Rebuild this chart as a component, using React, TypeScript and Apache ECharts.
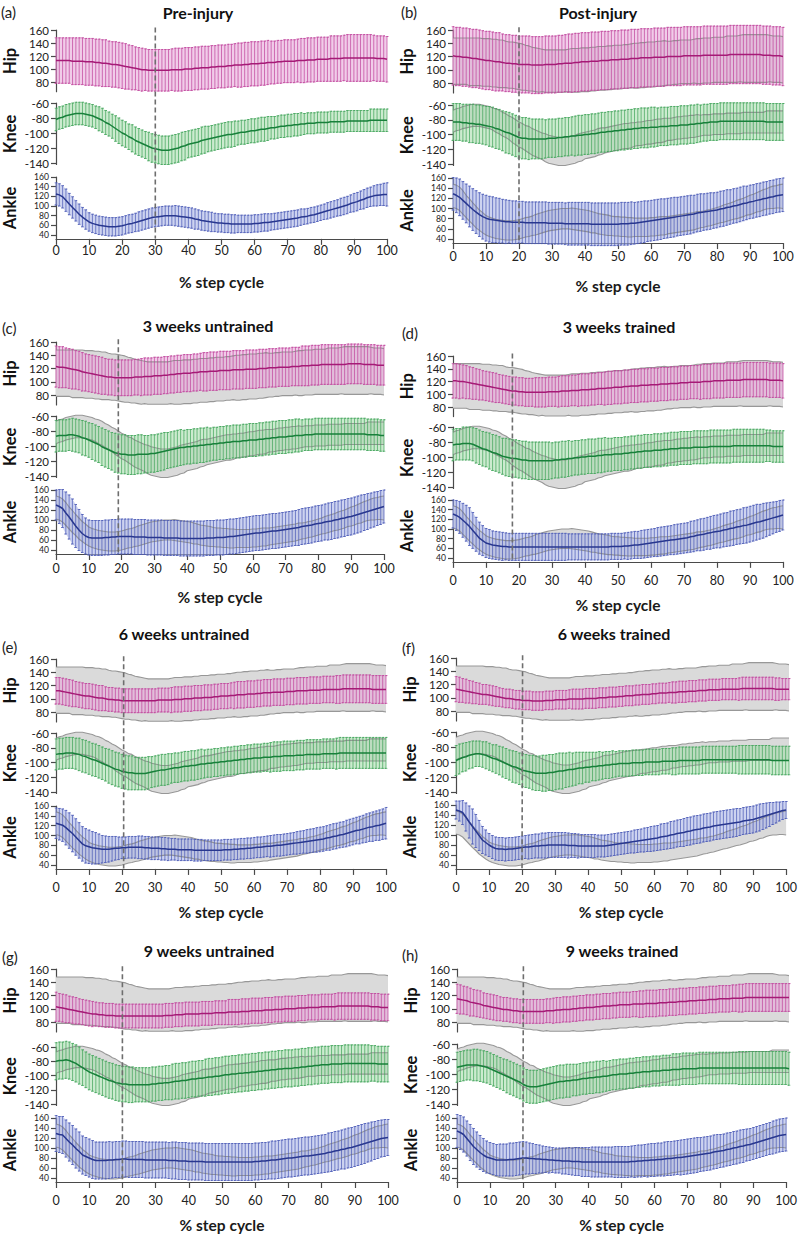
import React, { useEffect, useRef } from "react";
import * as echarts from "echarts";

// ---------------- DATA ----------------
const STEP: number[] = Array.from({ length: 101 }, (_, i) => i); // % step cycle sample positions
const X_TICKS = [0, 10, 20, 30, 40, 50, 60, 70, 80, 90, 100];
const HIP_TICKS = [80, 100, 120, 140, 160];
const KNEE_TICKS = [-140, -120, -100, -80, -60];
const ANKLE_TICKS = [40, 60, 80, 100, 120, 140, 160];
const JOINTS = ["Hip", "Knee", "Ankle"];
const PANEL_TITLES = ["Pre-injury", "Post-injury", "3 weeks untrained", "3 weeks trained", "6 weeks untrained", "6 weeks trained", "9 weeks untrained", "9 weeks trained"];
const PANEL_LETTERS = ["(a)", "(b)", "(c)", "(d)", "(e)", "(f)", "(g)", "(h)"];
const EVENT_LINE = [30, 20, 19, 18, 20.5, 20, 20, 20];

// (a) Pre-injury
const HIP_MEAN_A = [113,113,113,113,113,112,112,112,112,111,111,111,110,110,109,109,108,107,107,106,105,104,103,102,101,100,99,99,98,98,98,98,98,98,98,99,99,99,99,100,100,100,101,101,102,102,102,103,103,104,104,104,105,105,106,106,106,107,107,108,108,108,109,109,110,110,110,111,111,112,112,112,112,113,113,113,114,114,114,115,115,115,115,116,116,116,116,117,117,117,117,117,117,117,117,117,117,116,116,116,115];
const HIP_SD_A = [35,35,35,35,35,36,36,36,36,36,36,36,36,36,36,36,35,35,35,35,35,35,34,34,33,33,33,32,32,32,32,32,32,32,32,32,33,33,33,33,33,33,33,33,33,33,33,33,33,33,33,33,33,33,33,34,34,34,34,34,34,34,34,34,34,33,33,33,33,33,33,33,33,33,34,34,34,34,34,34,34,34,34,35,35,35,35,35,36,36,36,36,36,36,36,36,35,35,35,35,35];
const KNEE_MEAN_A = [-82,-80,-79,-77,-76,-75,-74,-74,-74,-75,-76,-77,-79,-81,-83,-86,-88,-91,-94,-97,-100,-102,-105,-107,-110,-112,-114,-116,-118,-120,-121,-122,-123,-123,-123,-122,-121,-120,-118,-117,-115,-114,-113,-112,-110,-109,-108,-107,-106,-105,-104,-103,-102,-102,-101,-100,-99,-99,-98,-97,-97,-96,-95,-95,-94,-93,-93,-92,-91,-91,-90,-90,-89,-89,-88,-88,-87,-87,-87,-86,-86,-86,-86,-85,-85,-85,-85,-85,-84,-84,-84,-84,-84,-84,-84,-83,-83,-83,-83,-83,-83];
const KNEE_SD_A = [15,15,15,15,15,15,15,15,15,15,15,15,15,16,16,16,16,16,17,17,17,17,17,18,18,18,18,18,19,19,19,19,19,19,19,19,19,19,19,19,18,18,18,18,18,18,17,17,17,17,17,17,17,17,17,16,16,16,16,16,16,16,16,16,16,15,15,15,15,15,15,15,15,15,15,14,14,14,14,14,14,14,14,14,14,14,14,14,14,14,14,14,14,14,14,15,15,15,15,15,15];
const ANK_MEAN_A = [125,123,119,112,104,97,90,83,77,72,67,64,62,60,59,58,57,57,57,58,59,61,63,64,66,68,70,72,74,76,77,78,79,80,80,80,80,79,78,77,76,75,73,72,70,69,68,67,66,65,65,64,64,63,63,63,63,63,63,63,64,64,65,66,66,67,68,69,70,71,72,73,74,75,77,78,79,81,82,84,86,88,90,92,94,96,98,100,102,105,107,109,112,114,117,119,121,122,123,124,124];
const ANK_SD_A = [23,23,23,23,22,22,21,21,20,20,19,19,19,19,19,19,19,19,19,19,19,19,19,19,19,20,20,20,20,20,20,20,20,20,20,20,21,21,21,21,21,21,21,20,20,20,20,20,19,19,19,19,19,19,19,18,18,18,18,18,18,18,18,18,18,17,17,17,17,17,17,17,17,17,17,16,16,16,16,16,16,16,17,17,17,17,18,18,18,18,19,19,19,20,20,20,21,22,22,23,24];

// (b) Post-injury
const HIP_MEAN_B = [121,120,120,119,119,118,117,117,116,115,114,114,113,112,112,111,110,110,109,109,108,108,108,108,107,107,107,107,108,108,108,108,109,109,110,110,110,111,111,112,112,112,113,113,113,114,114,114,115,115,115,116,116,116,117,117,117,118,118,118,118,119,119,119,119,120,120,120,120,120,121,121,121,121,121,121,122,122,122,122,122,122,122,122,123,123,123,123,123,123,123,123,123,123,122,122,122,121,121,121,120];
const HIP_SD_B = [44,44,44,44,44,44,44,44,44,44,44,44,44,44,44,43,43,43,43,43,43,43,43,43,43,43,43,43,43,43,43,43,43,43,43,44,44,44,44,44,44,44,44,44,44,44,44,44,44,44,44,44,44,44,44,44,44,44,44,44,44,44,44,44,44,44,44,44,44,44,44,44,44,44,44,44,44,44,44,44,44,44,44,44,44,44,44,44,44,44,44,44,44,44,44,44,44,44,44,44,44];
const KNEE_MEAN_B = [-83,-83,-83,-84,-84,-85,-85,-86,-86,-87,-88,-89,-90,-92,-93,-95,-97,-98,-100,-102,-104,-105,-105,-106,-106,-106,-106,-106,-106,-105,-105,-105,-104,-104,-103,-103,-102,-102,-101,-101,-100,-100,-99,-99,-98,-97,-97,-96,-96,-95,-95,-94,-94,-93,-93,-92,-92,-91,-91,-91,-90,-90,-90,-89,-89,-89,-88,-88,-88,-87,-87,-87,-86,-86,-85,-85,-84,-84,-83,-83,-83,-82,-82,-82,-82,-82,-82,-82,-82,-82,-82,-82,-82,-82,-82,-83,-83,-83,-83,-83,-83];
const KNEE_SD_B = [25,25,25,25,25,26,26,26,26,26,26,27,27,27,27,27,28,28,28,28,28,28,28,28,27,27,27,27,26,26,26,26,26,26,26,26,26,27,27,27,27,27,27,27,27,27,27,27,27,27,27,27,27,27,27,27,27,27,27,27,27,27,26,26,26,26,26,26,26,26,26,26,26,26,26,25,25,25,25,25,25,25,25,25,25,25,25,25,25,25,25,25,25,25,25,25,25,25,25,25,25];
const ANK_MEAN_B = [129,126,122,116,110,104,98,93,88,84,81,79,78,77,76,75,74,74,73,73,73,73,72,72,72,72,72,72,72,71,71,71,71,71,70,70,70,70,70,70,70,70,69,69,69,69,69,69,69,69,69,70,70,70,71,71,72,73,74,75,76,77,78,79,80,81,82,83,84,85,86,87,88,89,91,92,93,94,95,96,97,99,100,102,103,105,106,108,110,111,113,114,116,117,119,120,122,123,125,126,127];
const ANK_SD_B = [32,34,36,37,38,40,41,42,43,44,45,45,45,44,44,43,43,42,42,42,41,41,41,41,41,41,41,41,41,41,41,41,41,41,41,42,42,42,42,42,42,42,42,42,42,42,42,42,42,42,42,42,42,42,42,41,41,41,41,40,40,40,40,40,39,39,39,39,38,38,38,38,38,37,37,37,36,36,36,35,35,35,35,35,34,34,34,34,34,33,33,33,33,33,33,33,33,33,33,33,33];

// (c) 3 weeks untrained
const HIP_MEAN_C = [123,122,122,121,120,119,118,117,115,114,113,112,111,110,109,108,107,107,106,106,106,106,106,106,107,107,107,108,108,108,109,109,109,110,110,111,111,112,112,113,113,113,114,114,115,115,115,116,116,116,117,117,117,117,118,118,118,118,119,119,119,119,120,120,120,121,121,121,122,122,122,122,123,123,123,124,124,124,125,125,125,126,126,126,126,126,126,126,126,127,127,127,127,127,126,126,126,126,125,125,125];
const HIP_SD_C = [31,31,31,30,30,30,29,29,29,28,28,28,28,28,28,27,27,27,27,27,27,27,27,27,27,27,28,28,28,28,28,28,28,28,28,28,28,28,28,28,28,28,28,28,28,29,29,29,29,29,29,29,29,29,29,29,29,29,29,29,29,29,29,29,29,29,29,29,29,29,29,29,29,29,29,30,30,30,30,30,30,30,30,30,30,30,30,30,30,30,30,30,30,30,30,30,30,30,30,30,30];
const KNEE_MEAN_C = [-87,-86,-86,-86,-85,-85,-86,-87,-89,-90,-92,-94,-96,-98,-101,-103,-105,-107,-109,-110,-111,-111,-112,-112,-112,-111,-111,-111,-111,-110,-110,-109,-108,-107,-106,-105,-104,-103,-102,-102,-101,-101,-100,-100,-99,-99,-98,-98,-97,-97,-96,-96,-95,-95,-94,-94,-94,-93,-93,-92,-92,-92,-91,-91,-90,-90,-89,-89,-88,-88,-88,-87,-87,-86,-86,-86,-85,-85,-85,-84,-84,-84,-84,-84,-84,-84,-84,-84,-84,-84,-84,-84,-84,-84,-84,-85,-85,-85,-85,-86,-86];
const KNEE_SD_C = [21,21,21,21,21,22,22,22,23,23,23,24,24,24,25,25,25,25,26,26,26,26,26,26,26,26,26,25,25,25,25,25,25,25,24,24,24,24,24,23,23,23,23,23,23,23,23,22,22,22,22,22,22,22,22,22,22,22,22,22,22,22,22,22,22,22,22,22,22,22,22,22,22,22,22,21,21,21,21,21,21,21,21,21,21,21,21,21,21,21,21,21,21,21,21,21,21,21,21,21,21];
const ANK_MEAN_C = [130,127,123,114,106,97,88,80,73,68,65,64,64,64,64,65,65,66,66,67,67,67,67,67,66,66,66,66,65,65,65,65,65,64,64,64,64,64,63,63,63,63,63,63,63,63,64,64,64,65,65,65,66,67,67,68,69,70,71,72,73,74,74,75,76,77,78,78,79,80,81,82,83,84,85,87,88,89,90,92,93,94,96,97,98,100,101,103,104,106,107,109,111,113,115,117,119,121,123,125,127];
const ANK_SD_C = [30,34,38,42,44,45,43,41,38,36,35,35,35,35,35,35,35,35,35,35,35,35,35,35,35,35,35,35,35,35,35,35,35,35,35,35,35,35,35,35,35,35,35,35,35,35,35,35,35,35,35,35,35,35,35,35,35,35,35,35,35,35,35,35,35,35,35,35,35,35,35,35,35,35,36,36,36,36,36,36,36,36,36,37,37,37,37,37,37,37,37,37,37,37,36,36,35,35,34,34,33];

// (d) 3 weeks trained
const HIP_MEAN_D = [121,121,120,120,119,118,117,116,115,114,113,112,111,110,109,108,107,106,105,105,104,104,103,103,103,103,103,103,103,104,104,104,104,105,105,105,106,106,106,107,107,107,108,108,109,109,109,110,110,111,111,111,112,112,113,113,113,114,114,114,115,115,115,116,116,116,117,117,117,118,118,118,119,119,119,119,120,120,120,121,121,121,121,122,122,122,122,122,123,123,123,123,123,123,123,123,122,122,122,122,121];
const HIP_SD_D = [27,27,27,26,26,25,25,24,24,23,23,23,23,23,22,22,22,22,22,22,22,22,22,22,22,23,23,23,23,23,23,23,24,24,24,24,24,24,25,25,25,25,25,25,25,25,26,26,26,26,26,26,26,26,26,26,26,26,26,26,26,26,26,26,26,26,26,26,26,26,26,26,26,26,26,27,27,27,27,27,27,27,27,27,27,27,27,27,27,27,27,27,27,27,27,27,27,27,27,27,27];
const KNEE_MEAN_D = [-84,-83,-83,-82,-82,-82,-83,-85,-87,-89,-90,-92,-94,-95,-97,-99,-100,-101,-102,-102,-103,-104,-104,-105,-105,-105,-105,-105,-105,-105,-105,-104,-104,-103,-103,-102,-102,-101,-101,-100,-100,-99,-99,-99,-98,-98,-97,-97,-97,-96,-96,-96,-95,-95,-94,-94,-93,-93,-92,-92,-92,-91,-91,-91,-90,-90,-89,-89,-89,-88,-88,-88,-88,-87,-87,-87,-87,-87,-86,-86,-86,-86,-86,-86,-86,-85,-85,-85,-85,-85,-85,-85,-85,-85,-85,-85,-85,-86,-86,-86,-86];
const KNEE_SD_D = [21,21,21,22,22,22,22,23,23,23,23,24,24,24,24,24,25,25,25,25,25,25,25,25,25,25,25,25,25,25,24,24,24,24,24,24,23,23,23,23,23,23,23,23,23,23,23,22,22,22,22,22,22,22,22,22,22,22,22,22,22,22,22,22,22,22,22,22,22,22,22,22,22,22,22,22,22,22,22,22,22,22,22,22,22,22,22,22,22,22,22,22,22,22,22,21,21,21,21,21,21];
const ANK_MEAN_D = [131,128,124,118,112,105,97,89,81,76,71,69,67,66,65,64,64,63,63,63,63,63,63,63,63,63,63,63,63,63,63,63,63,63,63,63,63,63,63,63,63,63,63,63,63,63,63,63,64,64,64,64,65,65,66,67,67,68,69,70,71,72,73,74,75,76,77,78,79,80,81,82,84,85,87,88,89,91,92,94,95,96,98,99,101,102,104,105,107,108,110,112,114,115,117,119,121,123,125,127,129];
const ANK_SD_D = [29,31,33,35,37,39,37,35,33,31,30,30,29,29,29,29,28,28,28,28,28,28,28,28,28,28,28,28,28,28,28,28,28,28,28,27,27,27,27,27,27,27,27,27,27,27,27,27,27,27,27,27,27,28,28,28,28,29,29,29,29,29,30,30,30,30,30,31,31,31,31,31,32,32,32,33,33,33,34,34,34,35,35,35,36,36,36,36,37,37,37,37,37,36,36,35,34,33,32,32,31];

// (e) 6 weeks untrained
const HIP_MEAN_E = [112,112,111,110,109,108,107,106,105,104,104,103,102,101,101,100,99,99,98,98,97,97,97,97,97,97,97,97,97,97,97,98,98,98,98,98,99,99,99,100,100,100,101,101,101,102,102,102,103,103,104,104,104,105,105,106,106,106,107,107,107,108,108,109,109,109,110,110,110,110,111,111,111,112,112,112,112,113,113,113,113,114,114,114,114,114,114,115,115,115,115,115,115,115,115,115,114,114,114,114,114];
const HIP_SD_E = [20,20,20,20,20,20,19,19,19,19,19,19,19,19,19,18,18,18,18,18,18,18,18,18,18,18,18,18,18,18,18,18,18,18,18,19,19,19,19,19,19,19,19,19,19,19,19,19,19,19,19,19,19,19,20,20,20,20,20,20,20,20,20,20,20,20,20,20,20,20,20,20,20,20,20,20,20,20,20,20,20,20,20,20,20,21,21,21,21,21,21,21,21,21,21,21,21,21,21,21,21];
const KNEE_MEAN_E = [-89,-88,-88,-87,-87,-87,-88,-89,-91,-92,-94,-96,-97,-99,-101,-103,-105,-107,-109,-110,-112,-113,-114,-114,-115,-115,-115,-115,-114,-113,-112,-111,-110,-110,-109,-108,-107,-107,-106,-105,-105,-104,-104,-103,-102,-102,-101,-101,-100,-100,-99,-99,-98,-98,-97,-97,-96,-96,-95,-95,-94,-94,-94,-93,-93,-93,-92,-92,-92,-91,-91,-91,-91,-90,-90,-90,-89,-89,-89,-89,-89,-88,-88,-88,-88,-88,-87,-87,-87,-87,-87,-87,-87,-87,-87,-87,-87,-87,-87,-87,-87];
const KNEE_SD_E = [21,21,21,21,21,21,21,22,22,22,22,22,22,22,22,22,23,23,23,23,23,23,23,23,22,22,22,22,22,21,21,21,21,21,21,20,20,20,20,20,20,20,20,20,20,19,19,19,19,19,19,19,19,19,19,19,19,19,19,19,19,19,19,19,19,20,20,20,20,20,20,20,20,20,20,20,20,20,20,20,20,20,20,20,20,21,21,21,21,21,21,21,21,21,21,21,21,21,21,21,21];
const ANK_MEAN_E = [125,123,121,116,110,104,97,90,83,79,77,75,74,73,72,72,72,73,74,74,75,75,76,76,76,76,76,75,75,74,74,74,73,73,72,72,72,71,71,71,71,71,70,70,70,70,70,70,70,70,70,71,71,71,72,72,73,73,74,74,75,76,76,77,78,78,79,80,80,81,82,83,84,85,86,87,88,89,90,91,92,93,95,96,98,99,101,102,104,106,108,110,111,113,115,117,118,120,121,123,125];
const ANK_SD_E = [31,32,33,35,36,37,37,36,35,35,34,33,32,30,28,27,26,25,24,23,22,22,22,22,22,23,23,23,23,23,23,23,23,23,23,22,22,22,22,22,22,22,22,22,22,21,21,21,21,21,21,21,21,21,21,21,21,21,21,21,21,21,21,21,21,22,22,22,22,22,22,22,22,23,23,23,24,24,24,25,25,25,25,26,26,26,26,26,27,27,27,27,28,28,29,29,30,30,31,31,32];

// (f) 6 weeks trained
const HIP_MEAN_F = [113,112,111,110,109,108,107,106,105,105,104,103,102,101,100,99,99,98,97,97,96,96,96,95,95,95,95,96,96,96,97,97,97,97,98,98,98,98,98,99,99,99,99,100,100,100,101,101,101,102,102,103,103,103,104,104,105,105,105,106,106,107,107,107,108,108,108,109,109,109,110,110,110,111,111,111,112,112,112,112,113,113,113,113,113,113,114,114,114,114,114,114,114,114,114,114,113,113,113,113,113];
const HIP_SD_F = [19,19,18,18,17,17,16,16,15,15,15,15,15,14,14,14,14,14,14,14,14,14,14,14,14,14,14,14,14,14,14,14,14,14,14,15,15,15,15,15,15,15,15,15,15,15,15,15,15,15,15,15,15,15,15,15,15,15,15,15,15,15,15,15,15,16,16,16,16,16,16,16,16,16,16,16,16,16,16,16,16,16,16,16,16,17,17,17,17,17,17,17,17,17,17,17,17,17,16,16,16];
const KNEE_MEAN_F = [-98,-96,-94,-93,-91,-90,-89,-89,-90,-91,-93,-95,-96,-98,-100,-102,-104,-106,-107,-109,-111,-112,-113,-114,-115,-115,-115,-115,-114,-114,-113,-112,-112,-111,-110,-110,-109,-108,-108,-107,-107,-106,-106,-105,-105,-104,-104,-103,-103,-102,-102,-102,-102,-101,-101,-101,-101,-100,-100,-100,-100,-100,-99,-99,-99,-99,-99,-98,-98,-98,-98,-98,-98,-98,-97,-97,-97,-97,-97,-97,-97,-97,-97,-97,-97,-97,-97,-97,-97,-97,-97,-97,-97,-97,-97,-98,-98,-98,-98,-98,-98];
const KNEE_SD_F = [20,20,19,19,18,18,17,17,17,18,18,18,19,19,20,20,20,21,21,21,22,22,22,23,23,23,24,24,24,24,24,24,24,23,23,22,22,21,21,20,20,19,19,19,18,18,18,18,17,17,17,17,17,17,17,17,17,17,17,17,17,17,17,17,17,18,18,18,18,18,18,18,18,18,18,18,18,18,18,18,18,18,18,18,18,19,19,19,19,19,19,19,19,19,19,19,19,19,19,19,19];
const ANK_MEAN_F = [150,148,145,136,126,117,108,99,90,85,80,76,73,72,72,71,72,72,73,74,75,76,76,77,78,78,79,79,80,80,80,80,80,80,79,79,79,78,78,78,78,78,78,78,78,78,79,80,81,82,83,84,85,86,87,88,89,90,91,92,93,94,96,97,98,100,101,103,104,105,107,108,110,111,112,114,115,116,118,119,120,121,122,123,124,125,126,128,129,130,131,133,135,137,139,141,143,145,147,149,150];
const ANK_SD_F = [18,20,24,28,32,35,33,30,27,25,23,23,23,23,23,23,23,23,23,23,23,23,24,24,24,24,25,25,25,25,25,25,25,25,25,24,24,24,23,23,23,23,23,22,22,22,22,22,22,22,22,22,22,22,23,23,23,24,24,25,25,25,26,26,26,27,27,27,27,28,28,28,28,28,28,28,28,28,28,28,28,28,28,28,28,28,27,27,27,27,27,27,27,26,25,24,22,21,19,18,17];

// (g) 9 weeks untrained
const HIP_MEAN_G = [103,102,101,100,99,98,97,96,95,94,93,92,92,91,91,90,90,90,89,89,89,89,89,89,89,89,89,89,89,89,89,89,89,90,90,90,91,91,91,92,92,92,92,92,93,93,93,93,94,94,94,94,95,95,95,95,96,96,96,97,97,97,97,98,98,98,99,99,99,100,100,100,100,101,101,101,102,102,102,102,103,103,103,103,103,104,104,104,104,104,104,104,104,104,104,103,103,103,102,102,102];
const HIP_SD_G = [22,21,21,21,20,20,20,19,19,19,19,19,18,18,18,18,18,18,18,18,18,18,18,18,18,18,18,18,18,18,18,18,18,18,18,18,18,18,18,18,18,18,18,18,18,18,18,18,18,18,18,18,19,19,19,19,19,19,19,19,19,19,19,19,19,19,19,19,19,19,19,19,19,19,19,19,19,19,19,19,19,19,19,19,20,20,20,20,20,20,20,20,20,20,20,20,20,20,20,20,20];
const KNEE_MEAN_G = [-80,-79,-79,-78,-79,-81,-83,-86,-89,-92,-95,-97,-99,-101,-103,-105,-107,-108,-110,-111,-112,-112,-113,-113,-113,-113,-113,-113,-113,-112,-112,-111,-111,-110,-110,-109,-108,-108,-107,-107,-106,-105,-105,-104,-104,-103,-102,-102,-101,-101,-100,-99,-99,-98,-98,-97,-97,-96,-96,-95,-95,-94,-94,-93,-93,-92,-92,-91,-91,-90,-90,-90,-89,-89,-88,-88,-87,-87,-86,-86,-85,-85,-85,-84,-84,-84,-84,-83,-83,-83,-83,-83,-83,-83,-83,-83,-83,-84,-84,-84,-84];
const KNEE_SD_G = [26,26,26,26,26,26,26,26,25,25,25,25,25,25,25,25,25,25,25,25,25,25,25,25,24,24,24,24,24,24,24,24,24,24,24,25,25,25,25,25,25,25,25,25,25,26,26,26,26,26,26,26,26,26,26,26,26,26,26,26,26,26,26,26,26,26,26,26,26,26,26,26,26,26,26,26,26,26,26,26,26,26,26,26,26,26,26,26,26,26,26,26,26,26,26,25,25,25,25,25,25];
const ANK_MEAN_G = [129,127,126,119,112,106,99,93,86,83,80,77,75,75,75,75,76,76,77,77,78,78,77,77,77,77,77,76,76,76,76,76,76,76,75,75,75,74,74,74,73,73,73,73,73,72,72,72,72,72,72,72,72,72,72,72,72,72,72,72,73,73,74,74,75,76,76,77,78,79,80,80,81,82,83,84,84,85,86,87,88,89,91,92,94,95,97,98,100,101,103,105,107,109,111,113,115,117,119,120,121];
const ANK_SD_G = [36,36,37,37,38,39,39,39,38,38,38,38,37,37,37,37,37,36,36,36,36,36,36,36,36,36,36,36,36,36,36,36,36,36,36,37,37,37,37,37,37,37,37,37,37,37,37,37,37,37,37,37,37,37,37,37,37,37,37,37,37,37,37,37,37,38,38,38,38,38,38,38,38,38,38,38,38,38,38,38,38,38,39,39,39,39,39,40,40,40,40,40,40,40,39,39,38,38,37,37,36];

// (h) 9 weeks trained
const HIP_MEAN_H = [115,114,113,112,110,109,108,107,105,104,103,102,101,100,99,99,98,97,97,96,96,96,96,96,96,96,96,97,97,97,98,98,99,99,99,100,100,101,101,102,102,102,103,103,104,104,104,105,105,106,106,106,106,107,107,107,107,108,108,108,108,109,109,109,110,110,110,111,111,111,112,112,112,113,113,113,114,114,114,115,115,115,115,116,116,116,116,117,117,117,117,117,117,117,117,117,117,117,117,117,117];
const HIP_SD_H = [22,22,21,21,21,20,20,20,19,19,19,19,19,18,18,18,18,18,18,18,18,18,18,18,18,18,18,18,18,19,19,19,19,19,19,19,19,19,19,19,19,19,19,19,19,19,19,19,19,19,19,19,19,19,19,20,20,20,20,20,20,20,20,20,20,20,20,20,20,20,20,20,20,20,20,20,20,20,20,20,20,20,20,20,20,21,21,21,21,21,21,21,21,21,21,21,21,21,21,21,21];
const KNEE_MEAN_H = [-91,-90,-89,-88,-88,-88,-88,-89,-90,-91,-93,-95,-97,-99,-101,-103,-105,-107,-109,-111,-114,-116,-117,-117,-117,-116,-115,-114,-113,-112,-111,-110,-110,-109,-109,-108,-108,-107,-106,-106,-105,-105,-104,-104,-103,-103,-102,-101,-101,-100,-100,-100,-99,-99,-98,-98,-97,-97,-97,-96,-96,-96,-95,-95,-95,-94,-94,-94,-93,-93,-93,-93,-93,-92,-92,-92,-92,-92,-92,-92,-92,-92,-92,-92,-92,-92,-92,-92,-92,-92,-92,-92,-92,-92,-92,-92,-92,-92,-92,-92,-93];
const KNEE_SD_H = [20,20,20,20,20,21,21,21,21,21,21,21,21,21,21,22,22,22,22,22,22,22,22,22,22,22,22,22,22,22,22,22,22,22,22,21,21,21,21,21,21,21,21,21,21,20,20,20,20,20,20,20,20,20,20,20,20,20,20,20,20,20,20,20,20,21,21,21,21,21,21,21,21,21,21,21,21,21,21,21,21,21,21,21,21,22,22,22,22,22,22,22,22,22,22,22,22,22,22,22,22];
const ANK_MEAN_H = [134,131,127,119,111,103,97,91,86,82,80,78,76,76,76,76,77,77,78,79,80,80,79,79,78,78,77,77,76,76,75,75,74,74,74,73,73,73,72,72,72,72,72,72,72,72,72,72,72,72,72,72,72,73,73,74,74,75,75,76,76,77,77,78,79,79,80,81,81,82,83,84,85,86,87,88,89,90,92,93,94,95,97,98,100,101,103,104,106,107,109,111,113,115,117,119,121,123,125,126,127];
const ANK_SD_H = [33,34,35,35,36,36,35,34,33,32,31,31,31,32,32,32,33,33,33,33,33,32,31,30,29,28,27,26,26,25,25,25,26,26,27,27,28,28,29,29,29,30,30,30,30,30,30,30,31,31,31,31,31,31,32,32,32,32,33,33,33,33,33,34,34,34,34,34,35,35,35,35,35,35,34,34,34,34,34,34,33,33,33,33,33,33,33,33,32,32,32,32,32,32,32,32,33,33,33,33,33];

const PANELS = [
  [[HIP_MEAN_A, HIP_SD_A], [KNEE_MEAN_A, KNEE_SD_A], [ANK_MEAN_A, ANK_SD_A]],
  [[HIP_MEAN_B, HIP_SD_B], [KNEE_MEAN_B, KNEE_SD_B], [ANK_MEAN_B, ANK_SD_B]],
  [[HIP_MEAN_C, HIP_SD_C], [KNEE_MEAN_C, KNEE_SD_C], [ANK_MEAN_C, ANK_SD_C]],
  [[HIP_MEAN_D, HIP_SD_D], [KNEE_MEAN_D, KNEE_SD_D], [ANK_MEAN_D, ANK_SD_D]],
  [[HIP_MEAN_E, HIP_SD_E], [KNEE_MEAN_E, KNEE_SD_E], [ANK_MEAN_E, ANK_SD_E]],
  [[HIP_MEAN_F, HIP_SD_F], [KNEE_MEAN_F, KNEE_SD_F], [ANK_MEAN_F, ANK_SD_F]],
  [[HIP_MEAN_G, HIP_SD_G], [KNEE_MEAN_G, KNEE_SD_G], [ANK_MEAN_G, ANK_SD_G]],
  [[HIP_MEAN_H, HIP_SD_H], [KNEE_MEAN_H, KNEE_SD_H], [ANK_MEAN_H, ANK_SD_H]],
];

// ---------------- LAYOUT / STYLE ----------------
const FONT = "Lato, 'Open Sans', sans-serif";
const AXES = [
  { min: 65, max: 160, ticks: HIP_TICKS, ref: [160, 80], fs: 11.5 },
  { min: -142, max: -60, ticks: KNEE_TICKS, ref: [-60, -140], fs: 11.5 },
  { min: 32, max: 160, ticks: ANKLE_TICKS, ref: [160, 40], fs: 8.6 },
];
const LAYOUT = [
  { x0: 54, x1: 387, y: [[30, 82], [103, 163], [177, 235]], title: [198, 12], letter: [1, 12], lm: 5 },
  { x0: 453, x1: 783, y: [[30, 83], [105, 164], [178, 239]], title: [598, 12], letter: [401, 12], lm: 7 },
  { x0: 54, x1: 384, y: [[342, 395], [416, 476], [490, 550]], title: [208, 325], letter: [2, 328], lm: 8 },
  { x0: 453, x1: 783, y: [[356, 407], [427, 487], [500, 558]], title: [619, 326], letter: [402, 333], lm: 12 },
  { x0: 53, x1: 386, y: [[659, 712], [733, 792], [806, 865]], title: [184, 633], letter: [2, 647], lm: 12 },
  { x0: 456, x1: 789, y: [[658, 711], [732, 792], [805, 865]], title: [614, 633], letter: [402, 648], lm: 12 },
  { x0: 53, x1: 388, y: [[969, 1022], [1047, 1104], [1118, 1178]], title: [209, 950], letter: [2, 957], lm: 12 },
  { x0: 457, x1: 789, y: [[969, 1022], [1044, 1104], [1118, 1178]], title: [622, 950], letter: [402, 955], lm: 12 },
];
const COLORS = [
  { line: "#a51a76", bar: "#c0449c", fill: "rgba(232,170,218,0.6)" },
  { line: "#17803a", bar: "#42a55a", fill: "rgba(170,222,175,0.6)" },
  { line: "#28378f", bar: "#4b5ab6", fill: "rgba(172,182,230,0.6)" },
];
const GRAY_FILL = "#dadada";
const GRAY_EDGE = "#8e8e8e";
const AXIS_COLOR = "#4a4a4a";

function buildOption() {
  const grid: any[] = [];
  const xAxis: any[] = [];
  const yAxis: any[] = [];
  const series: any[] = [];
  PANELS.forEach((panel, p) => {
    const L = LAYOUT[p];
    panel.forEach((jd, j) => {
      const gi = p * 3 + j;
      const ax = AXES[j];
      const [yA, yB] = L.y[j];
      const ppu = (yB - yA) / Math.abs(ax.ref[0] - ax.ref[1]);
      const top = yA - (ax.max - ax.ref[0]) * ppu;
      const bottom = yB + Math.abs(ax.ref[1] - ax.min) * ppu;
      grid.push({ left: L.x0, width: L.x1 - L.x0, top, height: bottom - top, containLabel: false });
      const isBottom = j === 2;
      xAxis.push({
        gridIndex: gi, type: "value", min: 0, max: 100, interval: 10, show: isBottom,
        axisLine: { show: true, lineStyle: { color: AXIS_COLOR, width: 1.2 } },
        axisTick: { show: true, length: 6, lineStyle: { color: AXIS_COLOR, width: 1.2 } },
        axisLabel: { color: "#222", fontSize: 12.5, fontFamily: FONT, margin: L.lm, customValues: X_TICKS },
        splitLine: { show: false },
        name: isBottom ? "% step cycle" : "", nameLocation: "middle", nameGap: 35,
        nameTextStyle: { fontWeight: "bold", fontSize: 15.5, color: "#1a1a1a", fontFamily: FONT },
      });
      yAxis.push({
        gridIndex: gi, type: "value", min: ax.min, max: ax.max,
        axisLine: { show: true, lineStyle: { color: AXIS_COLOR, width: 1.2 } },
        axisTick: { show: true, length: 5, customValues: ax.ticks, lineStyle: { color: AXIS_COLOR, width: 1.2 } },
        axisLabel: { customValues: ax.ticks, color: "#222", fontSize: ax.fs, lineHeight: ax.fs, fontFamily: FONT, margin: 7, showMinLabel: true, showMaxLabel: true, hideOverlap: false },
        splitLine: { show: false },
        name: JOINTS[j], nameLocation: "middle", nameGap: 38, nameRotate: 90,
        nameTextStyle: { fontWeight: "bold", fontSize: 16.5, color: "#111", fontFamily: FONT },
      });
      const [mean, sd] = jd as number[][];
      const [pmean, psd] = PANELS[0][j] as number[][];
      const col = COLORS[j];
      if (p > 0) {
        series.push({
          type: "custom", xAxisIndex: gi, yAxisIndex: gi, silent: true, z: 1, clip: false,
          data: [[0, pmean[0]]],
          renderItem: (_: any, api: any) => {
            const up = STEP.map((i) => api.coord([i, pmean[i] + psd[i]]));
            const lo = STEP.map((i) => api.coord([i, pmean[i] - psd[i]])).reverse();
            return { type: "polygon", shape: { points: up.concat(lo) }, style: { fill: GRAY_FILL } };
          },
        });
      }
      series.push({
        type: "custom", xAxisIndex: gi, yAxisIndex: gi, silent: true, z: 2, clip: false,
        data: [[0, mean[0]]],
        renderItem: (_: any, api: any) => {
          const up = STEP.map((i) => api.coord([i, mean[i] + sd[i]]));
          const lo = STEP.map((i) => api.coord([i, mean[i] - sd[i]])).reverse();
          return { type: "polygon", shape: { points: up.concat(lo) }, style: { fill: col.fill } };
        },
      });
      if (p > 0) {
        [1, -1].forEach((sgn) => {
          series.push({
            type: "line", xAxisIndex: gi, yAxisIndex: gi, silent: true, z: 3, clip: false,
            symbol: "none",
            data: STEP.map((i) => [i, pmean[i] + sgn * psd[i]]),
            lineStyle: { color: GRAY_EDGE, width: 1.1, opacity: 0.9 },
          });
        });
      }
      series.push({
        type: "custom", xAxisIndex: gi, yAxisIndex: gi, silent: true, z: 4, clip: false,
        data: STEP.map((i) => [i, mean[i] - sd[i], mean[i] + sd[i]]),
        encode: { x: 0, y: [1, 2] },
        renderItem: (_: any, api: any) => {
          const x = api.value(0);
          const lo = api.coord([x, api.value(1)]);
          const hi = api.coord([x, api.value(2)]);
          const w = 1.3;
          return {
            type: "polyline",
            shape: { points: [[hi[0] - w, hi[1]], [hi[0] + w, hi[1]], [hi[0], hi[1]], [lo[0], lo[1]], [lo[0] - w, lo[1]], [lo[0] + w, lo[1]]] },
            style: { stroke: col.bar, lineWidth: 0.85, fill: null, opacity: 0.85 },
          };
        },
      });
      series.push({
        type: "line", xAxisIndex: gi, yAxisIndex: gi, silent: true, z: 5, clip: false,
        symbol: "none", data: STEP.map((i) => [i, mean[i]]),
        lineStyle: { color: col.line, width: 1.5 },
      });
    });
  });
  return { animation: false, backgroundColor: "#ffffff", grid, xAxis, yAxis, series };
}

export default function App() {
  const ref = useRef<HTMLDivElement>(null);
  useEffect(() => {
    if (!ref.current) return;
    const chart = echarts.init(ref.current, null, { renderer: "svg", width: 800, height: 1235 });
    chart.setOption(buildOption());
    const graphic: any[] = [];
    PANELS.forEach((_, p) => {
      const L = LAYOUT[p];
      graphic.push({
        type: "text", x: L.title[0], y: L.title[1], silent: true,
        style: { text: PANEL_TITLES[p], fill: "#111", font: `bold 16px ${FONT}`, textAlign: "center", textVerticalAlign: "middle", align: "center", verticalAlign: "middle" },
      });
      graphic.push({
        type: "text", x: L.letter[0], y: L.letter[1], silent: true,
        style: { text: PANEL_LETTERS[p], fill: "#222", font: `15px ${FONT}`, textAlign: "left", textVerticalAlign: "middle", align: "left", verticalAlign: "middle" },
      });
      const gTop = p * 3;
      const gBot = p * 3 + 2;
      const a = chart.convertToPixel({ xAxisIndex: gTop, yAxisIndex: gTop } as any, [EVENT_LINE[p], 164]) as number[];
      const b = chart.convertToPixel({ xAxisIndex: gBot, yAxisIndex: gBot } as any, [EVENT_LINE[p], 33]) as number[];
      graphic.push({
        type: "line", silent: true, z: 100,
        shape: { x1: a[0], y1: a[1], x2: b[0], y2: b[1] },
        style: { stroke: "#6e6e6e", lineWidth: 1.6, lineDash: [5, 3] },
      });
    });
    chart.setOption({ graphic });
    return () => chart.dispose();
  }, []);
  return <div ref={ref} style={{ position: "absolute", left: 0, top: 0, width: 800, height: 1235 }} />;
}
